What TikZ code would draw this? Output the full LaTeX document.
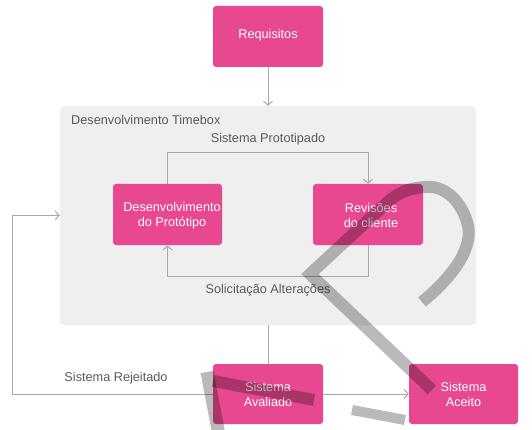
\documentclass[tikz,border=0pt]{standalone}
\usepackage{fontspec}
\setmainfont{Liberation Sans}
\usetikzlibrary{arrows.meta}
\definecolor{pinkbox}{HTML}{E8488F}
\definecolor{tbox}{HTML}{EFEFEF}
\definecolor{lineg}{HTML}{A8A8A8}
\definecolor{txtg}{HTML}{5A5A5A}
\begin{document}
\begin{tikzpicture}[x=1pt,y=-1pt,
  pbox/.style={fill=pinkbox, rounded corners=3pt, minimum width=110pt, minimum height=61pt, inner sep=0pt},
  btxt/.style={text=white, align=center, inner sep=0pt, font=\fontsize{12.7}{15}\selectfont},
  conn/.style={draw=lineg, line width=1pt},
  arr/.style={conn, -{Straight Barb[length=4pt,width=9pt]}},
  lbl/.style={text=txtg, inner sep=0pt, font=\fontsize{12.7}{15}\selectfont},
  wm/.style={draw=black, draw opacity=0.27, line width=12pt, line join=miter}]
\useasboundingbox (0,0) rectangle (532,430);

% timebox
\node[fill=tbox, rounded corners=4pt, minimum width=416pt, minimum height=219pt, inner sep=0pt] (tb) at (268,215.5) {};
\node[lbl, anchor=west] (tbl) at (71,120) {Desenvolvimento Timebox};

% boxes
\node[pbox] (req) at (268,36.5) {};
\node[btxt] (reqt) at (268,35) {Requisitos};
\node[pbox, minimum width=109pt] (dev) at (167.5,214.5) {};
\node[btxt] (devt) at (172,215.5) {Desenvolvimento\\do Protótipo};
\node[pbox] (rev) at (368,214.5) {};
\node[btxt] (revt) at (371,215.5) {Revisões\\do cliente};
\node[pbox, minimum height=60pt] (aval) at (268,394) {};
\node[btxt] (avalt) at (268,394) {Sistema\\Avaliado};
\node[pbox, minimum width=109pt, minimum height=60pt] (acc) at (463.5,394) {};
\node[btxt] (acct) at (463.5,394) {Sistema\\Aceito};

% labels
\node[lbl] (sp) at (268,139) {Sistema Prototipado};
\node[lbl] (sa) at (268,290) {Solicitação Alterações};
\node[lbl] (sr) at (116,378) {Sistema Rejeitado};

% connectors
\draw[arr] (req.south) -- (tb.north);
\draw[arr] (dev.north) -- ++(0,-31) -| (rev.north);
\draw[arr] (rev.south) -- ++(0,31) -| (dev.south);
\draw[conn] (tb.south) -- (aval.north);
\draw[arr] (aval.east) -- (acc.west);
\coordinate (rj) at (12,394);
\draw[arr] (aval.west) -- (rj) |- (tb.west);

% watermark strokes
\begin{scope}
\clip (0,0) rectangle (532,430);
\draw[wm] (422,302) .. controls (455,275) and (475,245) .. (467,222)
  .. controls (460,198) and (442,185) .. (425,187)
  .. controls (410,188) and (400,192) .. (390,200)
  -- (310,274) -- (432,390);
\draw[wm, line width=13pt] (207,372) -- (219,435);
\draw[wm] (213,381) -- (314,400);
\draw[wm, line width=10pt] (352,410) -- (405,420);
\end{scope}
\end{tikzpicture}
\end{document}
